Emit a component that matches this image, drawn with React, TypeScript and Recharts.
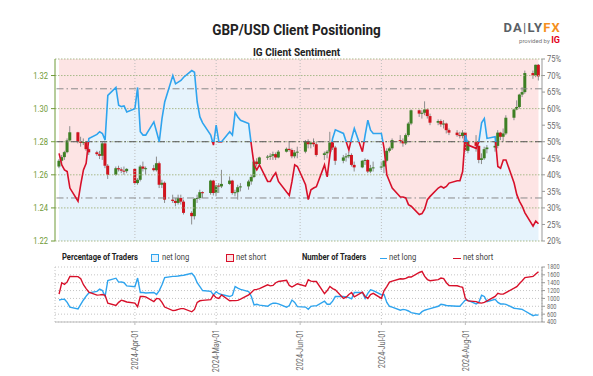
import React from 'react';
import { ComposedChart, Area, Line, Bar, XAxis, YAxis, ReferenceLine, CartesianGrid } from 'recharts';

const FONT = 'Roboto, "Noto Sans", sans-serif';
const SQ = 0.8; // horizontal squeeze to imitate a condensed face

// trading days per month (2024)
const marDays = [4, 5, 6, 7, 8, 11, 12, 13, 14, 15, 18, 19, 20, 21, 22, 25, 26, 27, 28, 29];
const aprDays = [1, 2, 3, 4, 5, 8, 9, 10, 11, 12, 15, 16, 17, 18, 19, 22, 23, 24, 25, 26, 29, 30];
const mayDays = [1, 2, 3, 6, 7, 8, 9, 10, 13, 14, 15, 16, 17, 20, 21, 22, 23, 24, 27, 28, 29, 30, 31];
const junDays = [3, 4, 5, 6, 7, 10, 11, 12, 13, 14, 17, 18, 19, 20, 21, 24, 25, 26, 27, 28];
const julDays = [1, 2, 3, 4, 5, 8, 9, 10, 11, 12, 15, 16, 17, 18, 19, 22, 23, 24, 25, 26, 29, 30, 31];
const augDays = [1, 2, 5, 6, 7, 8, 9, 12, 13, 14, 15, 16, 19, 20, 21, 22, 23, 26, 27, 28];

// [open, high, low, close]
const candles: [number, number, number, number][] = [
  // Mar
  [1.2650, 1.2695, 1.2640, 1.2685], [1.2685, 1.2720, 1.2670, 1.2707], [1.2707, 1.2745, 1.2690, 1.2737],
  [1.2737, 1.2820, 1.2730, 1.2808], [1.2808, 1.2894, 1.2800, 1.2857], [1.2857, 1.2860, 1.2790, 1.2800],
  [1.2800, 1.2830, 1.2770, 1.2793], [1.2793, 1.2820, 1.2780, 1.2798], [1.2798, 1.2805, 1.2745, 1.2755],
  [1.2755, 1.2765, 1.2720, 1.2736], [1.2736, 1.2745, 1.2715, 1.2725], [1.2725, 1.2745, 1.2695, 1.2715],
  [1.2715, 1.2800, 1.2690, 1.2790], [1.2790, 1.2800, 1.2640, 1.2655], [1.2655, 1.2665, 1.2575, 1.2600],
  [1.2600, 1.2650, 1.2595, 1.2640], [1.2640, 1.2655, 1.2620, 1.2633], [1.2633, 1.2645, 1.2610, 1.2625],
  [1.2625, 1.2650, 1.2600, 1.2622], [1.2622, 1.2640, 1.2610, 1.2636],
  // Apr
  [1.2636, 1.2640, 1.2540, 1.2550], [1.2550, 1.2580, 1.2540, 1.2570], [1.2570, 1.2660, 1.2560, 1.2650],
  [1.2650, 1.2680, 1.2620, 1.2637], [1.2637, 1.2650, 1.2600, 1.2640], [1.2640, 1.2660, 1.2620, 1.2628],
  [1.2628, 1.2710, 1.2620, 1.2670], [1.2670, 1.2680, 1.2520, 1.2540], [1.2540, 1.2570, 1.2520, 1.2552],
  [1.2552, 1.2560, 1.2430, 1.2450], [1.2450, 1.2480, 1.2430, 1.2442], [1.2442, 1.2460, 1.2410, 1.2430],
  [1.2430, 1.2480, 1.2420, 1.2460], [1.2460, 1.2480, 1.2420, 1.2438], [1.2438, 1.2450, 1.2360, 1.2370],
  [1.2370, 1.2380, 1.2300, 1.2350], [1.2350, 1.2460, 1.2330, 1.2455], [1.2455, 1.2480, 1.2430, 1.2460],
  [1.2460, 1.2510, 1.2450, 1.2495], [1.2495, 1.2500, 1.2460, 1.2490], [1.2490, 1.2570, 1.2480, 1.2565],
  [1.2565, 1.2570, 1.2475, 1.2490],
  // May
  [1.2490, 1.2540, 1.2470, 1.2535], [1.2535, 1.2550, 1.2490, 1.2530], [1.2530, 1.2630, 1.2520, 1.2545],
  [1.2545, 1.2590, 1.2540, 1.2565], [1.2565, 1.2570, 1.2480, 1.2490], [1.2490, 1.2510, 1.2470, 1.2495],
  [1.2495, 1.2540, 1.2450, 1.2525], [1.2525, 1.2550, 1.2500, 1.2530], [1.2530, 1.2570, 1.2510, 1.2560],
  [1.2560, 1.2600, 1.2540, 1.2587], [1.2587, 1.2690, 1.2580, 1.2680], [1.2680, 1.2700, 1.2650, 1.2665],
  [1.2665, 1.2710, 1.2650, 1.2705], [1.2705, 1.2720, 1.2690, 1.2710], [1.2710, 1.2730, 1.2690, 1.2715],
  [1.2715, 1.2740, 1.2690, 1.2725], [1.2725, 1.2735, 1.2690, 1.2705], [1.2705, 1.2750, 1.2700, 1.2740],
  [1.2740, 1.2765, 1.2735, 1.2757], [1.2757, 1.2800, 1.2740, 1.2750], [1.2750, 1.2760, 1.2700, 1.2712],
  [1.2712, 1.2750, 1.2700, 1.2735], [1.2735, 1.2770, 1.2700, 1.2740],
  // Jun
  [1.2740, 1.2810, 1.2730, 1.2800], [1.2800, 1.2815, 1.2760, 1.2785], [1.2785, 1.2800, 1.2760, 1.2795],
  [1.2795, 1.2820, 1.2770, 1.2785], [1.2785, 1.2800, 1.2710, 1.2720], [1.2720, 1.2740, 1.2690, 1.2730],
  [1.2730, 1.2750, 1.2700, 1.2740], [1.2740, 1.2860, 1.2730, 1.2795], [1.2795, 1.2820, 1.2750, 1.2765],
  [1.2765, 1.2775, 1.2660, 1.2685], [1.2685, 1.2720, 1.2670, 1.2705], [1.2705, 1.2730, 1.2680, 1.2712],
  [1.2712, 1.2740, 1.2700, 1.2720], [1.2720, 1.2730, 1.2650, 1.2660], [1.2660, 1.2680, 1.2620, 1.2645],
  [1.2645, 1.2690, 1.2640, 1.2685], [1.2685, 1.2700, 1.2660, 1.2690], [1.2690, 1.2695, 1.2610, 1.2620],
  [1.2620, 1.2660, 1.2610, 1.2640], [1.2640, 1.2680, 1.2620, 1.2645],
  // Jul
  [1.2645, 1.2680, 1.2630, 1.2650], [1.2650, 1.2690, 1.2610, 1.2685], [1.2685, 1.2760, 1.2675, 1.2745],
  [1.2745, 1.2770, 1.2735, 1.2760], [1.2760, 1.2820, 1.2750, 1.2810], [1.2810, 1.2840, 1.2790, 1.2805],
  [1.2805, 1.2820, 1.2770, 1.2790], [1.2790, 1.2850, 1.2780, 1.2840], [1.2840, 1.2920, 1.2830, 1.2910],
  [1.2910, 1.2995, 1.2900, 1.2990], [1.2990, 1.2995, 1.2950, 1.2970], [1.2970, 1.2990, 1.2940, 1.2975],
  [1.2975, 1.3044, 1.2960, 1.2995], [1.2995, 1.3000, 1.2940, 1.2955], [1.2955, 1.2970, 1.2900, 1.2915],
  [1.2915, 1.2935, 1.2900, 1.2925], [1.2925, 1.2935, 1.2890, 1.2905], [1.2905, 1.2930, 1.2880, 1.2910],
  [1.2910, 1.2915, 1.2850, 1.2870], [1.2870, 1.2880, 1.2840, 1.2855], [1.2855, 1.2870, 1.2830, 1.2840],
  [1.2840, 1.2860, 1.2820, 1.2835], [1.2835, 1.2870, 1.2820, 1.2855],
  // Aug
  [1.2855, 1.2860, 1.2740, 1.2745], [1.2745, 1.2810, 1.2730, 1.2800], [1.2800, 1.2840, 1.2740, 1.2775],
  [1.2775, 1.2780, 1.2670, 1.2690], [1.2690, 1.2730, 1.2665, 1.2700], [1.2700, 1.2770, 1.2690, 1.2755],
  [1.2755, 1.2780, 1.2730, 1.2765], [1.2765, 1.2800, 1.2740, 1.2775], [1.2775, 1.2870, 1.2760, 1.2855],
  [1.2855, 1.2860, 1.2810, 1.2830], [1.2830, 1.2880, 1.2800, 1.2850], [1.2850, 1.2960, 1.2840, 1.2945],
  [1.2945, 1.3000, 1.2930, 1.2995], [1.2995, 1.3050, 1.2990, 1.3010], [1.3010, 1.3090, 1.3000, 1.3085],
  [1.3085, 1.3130, 1.3070, 1.3100], [1.3100, 1.3230, 1.3090, 1.3215], [1.3215, 1.3230, 1.3180, 1.3200],
  [1.3200, 1.3266, 1.3190, 1.3265], [1.3265, 1.3270, 1.3170, 1.3195],
];

// % of traders net long
const longPct = [
  46.5, 43, 41.5, 41, 36, 32, 37, 41.5, 43.5, 51, 52.2, 53, 52.5, 50.5, 64, 66.4, 61, 60.6, 60.8, 59,
  60, 66.4, 53, 52, 52, 56, 53, 50, 57, 62, 70, 67.5, 68, 68.5, 69.5, 71.5, 71, 62, 57.5, 55.7, 52, 49,
  55, 50, 50, 53, 52, 58.8, 57.5, 56.5, 55.5, 49, 43, 41.5, 43, 38, 38, 39.5, 40.6, 38, 34.8, 33.8, 38, 43, 42.5,
  37, 32.5, 35.5, 36, 36.4, 43, 39.4, 46, 51, 53.6, 52.5, 50, 47.5, 51, 54, 47, 52, 56.5, 53.5, 52.5,
  52.5, 48, 40, 38, 36, 33.3, 33.3, 33, 31, 30.5, 28, 28.3, 29.7, 32.5, 33.5, 36, 36.5, 36, 36.5, 37.5, 38.2, 38.2, 41,
  52, 49, 48, 50, 55.7, 57, 51, 51.5, 42.5, 42, 44.5, 44.5, 37.5, 34, 32, 30.5, 28.5, 24.5, 26, 25.2,
];

// number of traders
const longCount = [
  960, 975, 980, 900, 780, 735, 850, 960, 1060, 1140, 1180, 1237, 1200, 1050, 1457, 1515, 1416, 1420, 1400, 1320,
  1300, 1519, 1150, 1150, 1140, 1150, 1100, 1200, 1350, 1530, 1562, 1562, 1570, 1585, 1590, 1640, 1560, 1400, 1300, 1200, 1180, 1091,
  1170, 1120, 1100, 1048, 1080, 1304, 1260, 1230, 1176, 1050, 835, 850, 830, 800, 850, 879, 879, 860, 776, 820, 960, 900, 792,
  780, 725, 800, 810, 810, 930, 850, 850, 930, 1048, 1048, 1040, 1020, 989, 1150, 1150, 1000, 1130, 1220, 1200,
  1095, 1100, 900, 800, 780, 700, 720, 710, 680, 640, 597, 664, 700, 720, 740, 800, 850, 840, 820, 815, 800, 800, 880,
  960, 950, 860, 900, 1080, 1050, 920, 980, 900, 860, 860, 850, 750, 740, 730, 720, 680, 560, 580, 575,
];
const shortCount = [
  1110, 1400, 1360, 1420, 1560, 1555, 1500, 1350, 1250, 1160, 1085, 1090, 1100, 1080, 879, 820, 900, 955, 935, 910,
  880, 792, 1048, 1048, 1040, 920, 1000, 990, 900, 780, 690, 700, 720, 740, 740, 660, 720, 900, 940, 950, 970, 1091,
  1020, 1000, 1090, 940, 945, 945, 950, 980, 1090, 1150, 1219, 1230, 1250, 1347, 1320, 1330, 1400, 1432, 1460, 1330, 1290, 1330, 1373,
  1310, 1475, 1440, 1430, 1430, 1120, 1200, 1304, 1250, 1220, 1000, 1030, 1100, 1150, 1040, 1160, 1050, 1000, 1100, 1130,
  1000, 1200, 1300, 1416, 1440, 1500, 1495, 1510, 1544, 1544, 1660, 1690, 1560, 1480, 1450, 1480, 1519, 1505, 1400, 1330, 1322, 1300, 1280,
  1000, 937, 920, 890, 880, 900, 937, 1050, 1130, 1110, 1110, 1150, 1260, 1300, 1380, 1450, 1530, 1560, 1620, 1680,
];

const priceTicks = [1.22, 1.24, 1.26, 1.28, 1.3, 1.32];
const pctTicks = [20, 25, 30, 35, 40, 45, 50, 55, 60, 65, 70, 75];
const countTicks = [400, 600, 800, 1000, 1200, 1400, 1600, 1800];
const monthTicks = [0, 30, 61, 91, 122];
const monthLabels = ['2024-Apr-01', '2024-May-01', '2024-Jun-01', '2024-Jul-01', '2024-Aug-01'];
const thresholdLines = [66, 33];

const PRICE_DOMAIN: [number, number] = [1.22, 1.33];
const PCT_DOMAIN: [number, number] = [20, 75];
const X_DOMAIN: [number, number] = [-29.5, 150.3];

const DAY = 86400000;
const base = Date.UTC(2024, 3, 1);
const monthSets: [number, number[]][] = [[2, marDays], [3, aprDays], [4, mayDays], [5, junDays], [6, julDays], [7, augDays]];
const dayIdx: number[] = [];
monthSets.forEach(([m, ds]) => ds.forEach((d) => dayIdx.push((Date.UTC(2024, m, d) - base) / DAY)));

const n = Math.min(dayIdx.length, candles.length, longPct.length, longCount.length, shortCount.length);
const rows = Array.from({ length: n }, (_, i) => ({
  x: dayIdx[i],
  o: candles[i][0],
  h: candles[i][1],
  l: candles[i][2],
  c: candles[i][3],
  longPct: longPct[i],
  longCount: longCount[i],
  shortCount: shortCount[i],
}));

const GREEN = '#6f9a36';
const BLUE = '#2fa4ee';
const RED = '#d7102a';
const GREY_TXT = '#6a6a6a';

const Candle = (props: any) => {
  const { x, y, width, height, payload } = props;
  if (!payload || x == null || y == null) return null;
  const { o, h, l, c } = payload;
  const span = h - l || 1e-9;
  const py = (v: number) => y + ((h - v) / span) * height;
  const cx = x + width / 2;
  const up = c >= o;
  const top = py(Math.max(o, c));
  const bot = py(Math.min(o, c));
  return (
    <g>
      <line x1={cx} x2={cx} y1={y} y2={y + height} stroke="#8c8c8c" strokeWidth={1} />
      <rect x={cx - 1.5} y={top} width={3} height={Math.max(1, bot - top)} fill={up ? '#3d7f24' : '#d0141e'} />
    </g>
  );
};

const makeTick = (anchor: 'start' | 'end', fill: string, fmt: (v: number) => string, size = 9.5) => (props: any) => {
  const { x, y, payload } = props;
  return (
    <g transform={`translate(${x},${y})`}>
      <text transform={`scale(${SQ},1)`} textAnchor={anchor} dy="0.35em" fontSize={size} fill={fill} fontFamily={FONT}>
        {fmt(payload.value)}
      </text>
    </g>
  );
};

const PriceTick = makeTick('end', GREEN, (v) => v.toFixed(2));
const PctTick = makeTick('start', GREY_TXT, (v) => `${v}%`);
const CountTick = makeTick('start', GREY_TXT, (v) => `${v}`, 7);

const MonthTick = (props: any) => {
  const { x, y, payload } = props;
  const idx = monthTicks.indexOf(payload.value);
  return (
    <g transform={`translate(${x},${y})`}>
      <text transform={`rotate(-90) scale(${SQ},1)`} x={-3} y={3.3} textAnchor="end" fontSize={9.2} fill={GREY_TXT} fontFamily={FONT}>
        {monthLabels[idx] ?? ''}
      </text>
    </g>
  );
};

const Narrow = ({ children, left, top = 0, bold = false, scale = SQ, color = '#444' }: any) => (
  <span
    style={{
      position: 'absolute',
      left,
      top,
      display: 'inline-block',
      whiteSpace: 'nowrap',
      transform: `scaleX(${scale})`,
      transformOrigin: '0 0',
      fontWeight: bold ? 700 : 400,
      color,
    }}
  >
    {children}
  </span>
);

export default function App() {
  return (
    <div style={{ position: 'absolute', left: 0, top: 0, width: 593, height: 376, background: '#fff', fontFamily: FONT, overflow: 'hidden' }}>
      <div style={{ position: 'absolute', left: 0, width: 593, top: 21, textAlign: 'center', fontSize: 15, fontWeight: 700, color: '#222', transform: 'scaleX(0.9)', transformOrigin: '297px 0' }}>
        GBP/USD Client Positioning
      </div>
      <div style={{ position: 'absolute', left: 0, width: 593, top: 45, textAlign: 'center', fontSize: 11.5, fontWeight: 700, color: '#222', transform: 'scaleX(0.87)', transformOrigin: '297px 0' }}>
        IG Client Sentiment
      </div>
      <div style={{ position: 'absolute', left: 495, top: 20, width: 66, textAlign: 'right', fontSize: 13, fontWeight: 700, letterSpacing: 1.2, color: '#5a5f66' }}>
        DA<span style={{ fontWeight: 400 }}>|</span>LY<span style={{ color: '#f5901e' }}>FX</span>
      </div>
      <div style={{ position: 'absolute', left: 495, top: 35, width: 65, textAlign: 'right', fontSize: 6, color: '#777' }}>
        provided by <span style={{ color: '#e2001a', fontWeight: 700, fontSize: 9 }}>IG</span>
      </div>

      <div style={{ position: 'absolute', left: 0, top: 0 }}>
        <ComposedChart width={593} height={250} data={rows} margin={{ top: 59, right: 0, bottom: 9, left: 0 }}>
          <defs>
            <linearGradient id="sentGrad" gradientUnits="userSpaceOnUse" x1="0" y1="59" x2="0" y2="241">
              <stop offset="0" stopColor={BLUE} />
              <stop offset="0.4545" stopColor={BLUE} />
              <stop offset="0.4545" stopColor={RED} />
              <stop offset="1" stopColor={RED} />
            </linearGradient>
          </defs>
          <XAxis dataKey="x" type="number" domain={X_DOMAIN} ticks={monthTicks} hide allowDataOverflow />
          <YAxis
            yAxisId="price"
            domain={PRICE_DOMAIN}
            ticks={priceTicks}
            interval={0}
            allowDataOverflow
            width={55}
            axisLine={{ stroke: GREEN }}
            tickLine={{ stroke: GREEN }}
            tickSize={4}
            tickMargin={3}
            tick={<PriceTick />}
          />
          <YAxis
            yAxisId="pct"
            orientation="right"
            domain={PCT_DOMAIN}
            ticks={pctTicks}
            interval={0}
            allowDataOverflow
            width={51}
            axisLine={{ stroke: '#999' }}
            tickLine={{ stroke: '#999' }}
            tickSize={3}
            tickMargin={2}
            tick={<PctTick />}
          />
          <Area
            yAxisId="pct"
            dataKey={(r: any) => [r.longPct, PCT_DOMAIN[1]]}
            fill="#fde4e4"
            fillOpacity={1}
            stroke="none"
            isAnimationActive={false}
            type="linear"
          />
          <Area
            yAxisId="pct"
            dataKey="longPct"
            fill="#e6f3fc"
            fillOpacity={1}
            stroke="none"
            isAnimationActive={false}
            type="linear"
          />
          {monthTicks.map((t) => (
            <ReferenceLine key={`v${t}`} x={t} yAxisId="price" stroke="#bdbdbd" strokeDasharray="1 2" />
          ))}
          {priceTicks.map((t) => (
            <ReferenceLine key={`h${t}`} y={t} yAxisId="price" stroke="#a9b98a" strokeDasharray="1.5 1.5" />
          ))}
          <ReferenceLine y={PRICE_DOMAIN[1]} yAxisId="price" stroke="#a9b98a" strokeDasharray="1.5 1.5" />
          {thresholdLines.map((t) => (
            <ReferenceLine key={`t${t}`} y={t} yAxisId="pct" stroke="#8a8a8a" strokeDasharray="7 3 1.5 3" />
          ))}
          <ReferenceLine y={50} yAxisId="pct" stroke="#555" strokeDasharray="7 3 1.5 3" />
          <Bar
            yAxisId="price"
            dataKey={(r: any) => [r.l, r.h]}
            barSize={3}
            shape={Candle}
            isAnimationActive={false}
          />
          <Line
            yAxisId="pct"
            dataKey="longPct"
            stroke="url(#sentGrad)"
            strokeWidth={1.6}
            dot={false}
            activeDot={false}
            type="linear"
            isAnimationActive={false}
          />
        </ComposedChart>
      </div>

      {/* legend row */}
      <div style={{ position: 'absolute', top: 251, left: 0, width: 593, height: 14, fontSize: 9.5 }}>
        <Narrow left={62} bold color="#222">Percentage of Traders</Narrow>
        <span style={{ position: 'absolute', left: 151, top: 3, width: 6, height: 6, border: `1.2px solid ${BLUE}`, background: '#e6f3fc' }} />
        <Narrow left={162}>net long</Narrow>
        <span style={{ position: 'absolute', left: 226, top: 3, width: 6, height: 6, border: `1.2px solid ${RED}`, background: '#fde4e4' }} />
        <Narrow left={236}>net short</Narrow>
        <Narrow left={302} bold color="#222">Number of Traders</Narrow>
        <span style={{ position: 'absolute', left: 380, top: 6.5, width: 7, height: 1.5, background: BLUE }} />
        <Narrow left={389}>net long</Narrow>
        <span style={{ position: 'absolute', left: 453, top: 6.5, width: 8, height: 1.5, background: RED }} />
        <Narrow left={463}>net short</Narrow>
      </div>

      <div style={{ position: 'absolute', left: 0, top: 260 }}>
        <ComposedChart width={593} height={116} data={rows} margin={{ top: 7, right: 0, bottom: 0, left: 55 }}>
          <CartesianGrid stroke="#c4c4c4" strokeDasharray="1 2" />
          <XAxis
            dataKey="x"
            type="number"
            domain={X_DOMAIN}
            ticks={monthTicks}
            interval={0}
            allowDataOverflow
            height={54}
            axisLine={{ stroke: '#bbb' }}
            tickLine={{ stroke: '#bbb' }}
            tickSize={3}
            tick={<MonthTick />}
          />
          <YAxis
            orientation="right"
            domain={[400, 1800]}
            ticks={countTicks}
            interval={0}
            allowDataOverflow
            width={51}
            axisLine={{ stroke: '#999' }}
            tickLine={{ stroke: '#999' }}
            tickSize={3}
            tickMargin={2}
            tick={<CountTick />}
          />
          <Line dataKey="longCount" stroke={BLUE} strokeWidth={1.4} dot={false} activeDot={false} type="linear" isAnimationActive={false} />
          <Line dataKey="shortCount" stroke={RED} strokeWidth={1.4} dot={false} activeDot={false} type="linear" isAnimationActive={false} />
        </ComposedChart>
      </div>
    </div>
  );
}
